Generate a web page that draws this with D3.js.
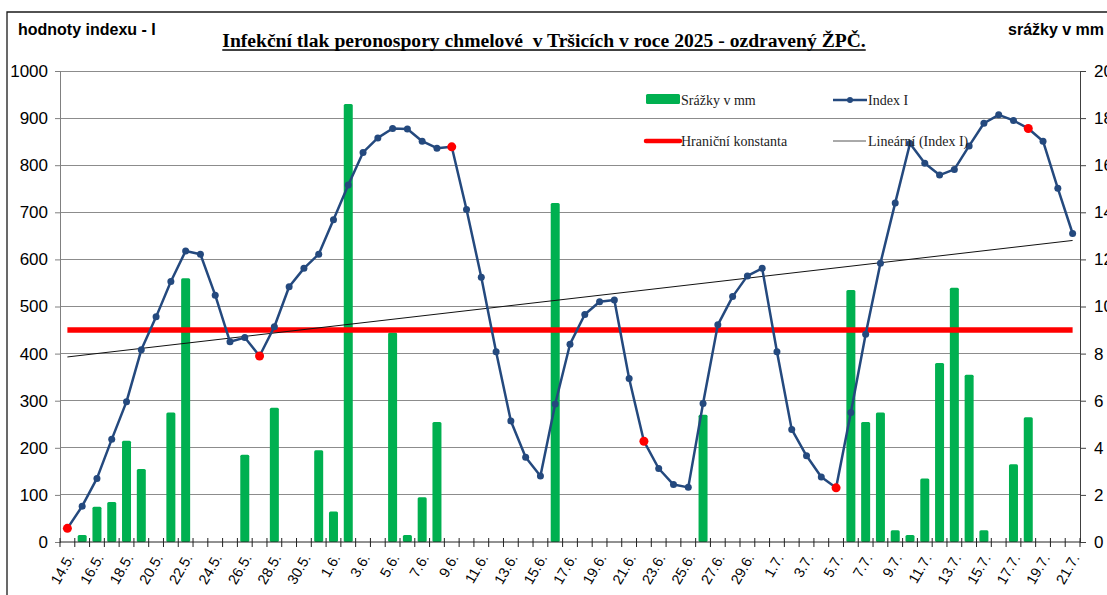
<!DOCTYPE html>
<html><head><meta charset="utf-8">
<script src="https://cdn.jsdelivr.net/npm/d3@7"></script>
<style>body{margin:0;background:#fff} svg{display:block}</style>
</head><body><svg id="c" width="1107" height="595"></svg>
<script>
const days = ["14.5.","15.5.","16.5.","17.5.","18.5.","19.5.","20.5.","21.5.","22.5.","23.5.","24.5.","25.5.","26.5.","27.5.","28.5.","29.5.","30.5.","31.5.",
"1.6.","2.6.","3.6.","4.6.","5.6.","6.6.","7.6.","8.6.","9.6.","10.6.","11.6.","12.6.","13.6.","14.6.","15.6.","16.6.","17.6.","18.6.","19.6.","20.6.","21.6.","22.6.","23.6.","24.6.","25.6.","26.6.","27.6.","28.6.","29.6.","30.6.",
"1.7.","2.7.","3.7.","4.7.","5.7.","6.7.","7.7.","8.7.","9.7.","10.7.","11.7.","12.7.","13.7.","14.7.","15.7.","16.7.","17.7.","18.7.","19.7.","20.7.","21.7."];
const indexI = [29,76,135,218,298,408,478,553,618,611,
524,425,434,395,457,542,581,611,684,758,
827,858,878,877,851,836,839,706,562,404,
257,180,140,293,420,483,510,514,347,214,
156,122,116,294,461,521,565,581,404,239,
183,138,115,275,441,592,720,846,804,779,
791,841,889,907,895,878,851,751,655];
const srazky = [0,0.3,1.5,1.7,4.3,3.1,0,5.5,11.2,0,
0,0,3.7,0,5.7,0,0,3.9,1.3,18.6,
0,0,8.9,0.3,1.9,5.1,0,0,0,0,
0,0,0,14.4,0,0,0,0,0,0,
0,0,0,5.4,0,0,0,0,0,0,
0,0,0,10.7,5.1,5.5,0.5,0.3,2.7,7.6,
10.8,7.1,0.5,0,3.3,5.3,0,0,0];
const highlighted = [0,13,26,39,52,65];
const hranicniKonstanta = 450;
const leftTicks = [0,100,200,300,400,500,600,700,800,900,1000];
const rightTicks = [0,2,4,6,8,10,12,14,16,18,20];
const titleText = "Infekční tlak peronospory chmelové  v Tršicích v roce 2025 - ozdravený ŽPČ.";
const leftTitle = "hodnoty indexu - I";
const rightTitle = "srážky v mm";
const legendItems = ["Srážky v mm","Index I","Hraniční konstanta","Lineární (Index I)"];

const SANS = "'Liberation Sans', Arial, sans-serif";
const SERIF = "'Liberation Serif', 'Times New Roman', serif";
const BLUE = "#24497E", GREEN = "#00B050", RED = "#FF0000";

const svg = d3.select("#c");
const L = 60, R = 1080, T = 71, B = 542;

const x = d3.scaleBand().domain(days).range([L, R]).padding(0);
const yL = d3.scaleLinear().domain([0, 1000]).range([B, T]);
const yR = d3.scaleLinear().domain([0, 20]).range([B, T]);
const cx = d => x(d) + x.bandwidth() / 2;

// frame
svg.append("path").attr("d", "M7,595 L7,12 L1107,12").attr("fill","none").attr("stroke","#1a1a1a").attr("stroke-width",1.3);

// gridlines
svg.append("g").selectAll("line").data(leftTicks.slice(1)).join("line")
  .attr("x1", L).attr("x2", R).attr("y1", d => yL(d)).attr("y2", d => yL(d))
  .attr("stroke", "#8c8c8c").attr("stroke-width", 1).attr("shape-rendering","crispEdges");

// bars
const bw = 9;
svg.append("g").selectAll("rect").data(days.map((d,i)=>({d, v: srazky[i]})).filter(o=>o.v>0)).join("rect")
  .attr("x", o => cx(o.d) - bw/2).attr("width", bw)
  .attr("y", o => yR(o.v)).attr("height", o => B - yR(o.v))
  .attr("rx", 1.5).attr("fill", GREEN);

// left axis
const gl = svg.append("g").attr("transform", `translate(${L},0)`)
  .call(d3.axisLeft(yL).tickValues(leftTicks).tickSize(5).tickPadding(7).tickFormat(d3.format("d")));
gl.select(".domain").attr("stroke", "#808080");
gl.selectAll(".tick line").attr("stroke", "#808080");
gl.selectAll("text").attr("font-family", SANS).attr("font-size", 17).attr("fill", "#000");

// right axis
const gr = svg.append("g").attr("transform", `translate(${R},0)`)
  .call(d3.axisRight(yR).tickValues(rightTicks).tickSize(6).tickPadding(8));
gr.select(".domain").attr("stroke", "#404040");
gr.selectAll(".tick line").attr("stroke", "#404040");
gr.selectAll("text").attr("font-family", SANS).attr("font-size", 17).attr("fill", "#000");

// bottom axis: ticks between categories
const gb = svg.append("g");
gb.append("line").attr("x1", L).attr("x2", R).attr("y1", B).attr("y2", B).attr("stroke", "#222").attr("stroke-width",1);
const bounds = days.map(d => x(d)).concat([R]);
gb.selectAll("line.tk").data(bounds).join("line").attr("class","tk")
  .attr("x1", d => d).attr("x2", d => d).attr("y1", B - 4).attr("y2", B + 5)
  .attr("stroke", "#222").attr("stroke-width", 1);
gb.selectAll("text").data(days.filter((d,i)=> i % 2 === 0)).join("text")
  .attr("transform", d => `translate(${cx(d)+3},${B+13}) rotate(-60)`)
  .attr("text-anchor", "end").attr("dy", "0.35em")
  .attr("font-family", SANS).attr("font-size", 14.5).attr("fill", "#000")
  .text(d => d);

// threshold line
svg.append("line").attr("x1", cx(days[0])).attr("x2", cx(days[days.length-1]))
  .attr("y1", yL(hranicniKonstanta)).attr("y2", yL(hranicniKonstanta))
  .attr("stroke", RED).attr("stroke-width", 5.5);

// linear trend of Index I
const n = indexI.length;
const xs = d3.range(n);
const mx = d3.mean(xs), my = d3.mean(indexI);
const slope = d3.sum(xs, i => (i - mx) * (indexI[i] - my)) / d3.sum(xs, i => (i - mx) ** 2);
const icpt = my - slope * mx;
svg.append("line")
  .attr("x1", cx(days[0])).attr("y1", yL(icpt))
  .attr("x2", cx(days[n-1])).attr("y2", yL(icpt + slope * (n-1)))
  .attr("stroke", "#111").attr("stroke-width", 1);

// index line
const pts = days.map((d,i)=>({d, v: indexI[i], i}));
svg.append("path").datum(pts)
  .attr("d", d3.line().x(p => cx(p.d)).y(p => yL(p.v)))
  .attr("fill", "none").attr("stroke", BLUE).attr("stroke-width", 2.5).attr("stroke-linejoin","round");
svg.append("g").selectAll("circle").data(pts).join("circle")
  .attr("cx", p => cx(p.d)).attr("cy", p => yL(p.v))
  .attr("r", p => highlighted.includes(p.i) ? 4.5 : 3.5)
  .attr("fill", p => highlighted.includes(p.i) ? RED : BLUE);

// titles
const tt = svg.append("text").attr("x", 544).attr("y", 47).attr("text-anchor","middle")
  .attr("font-family", SERIF).attr("font-weight","bold").attr("font-size", 19.6)
  .style("white-space","pre").attr("fill","#000").text(titleText);
const tw = tt.node().getComputedTextLength();
svg.append("line").attr("x1", 544 - tw/2).attr("x2", 544 + tw/2).attr("y1", 50).attr("y2", 50)
  .attr("stroke","#000").attr("stroke-width",1.3);
svg.append("text").attr("x", 18).attr("y", 35).attr("font-family", SANS).attr("font-weight","bold")
  .attr("font-size", 16).attr("fill","#000").text(leftTitle);
svg.append("text").attr("x", 1008).attr("y", 35).attr("font-family", SANS).attr("font-weight","bold")
  .attr("font-size", 16).attr("fill","#000").text(rightTitle);

// legend
const lg = svg.append("g").attr("font-family", SERIF).attr("font-size", 14).attr("fill", "#222");
lg.append("rect").attr("x", 646).attr("y", 94).attr("width", 34).attr("height", 10).attr("rx",1.5).attr("fill", GREEN);
lg.append("text").attr("x", 681).attr("y", 105).text(legendItems[0]);
lg.append("line").attr("x1", 833).attr("x2", 867).attr("y1", 100).attr("y2", 100).attr("stroke", BLUE).attr("stroke-width", 2.5);
lg.append("circle").attr("cx", 850).attr("cy", 100).attr("r", 3).attr("fill", BLUE);
lg.append("text").attr("x", 868).attr("y", 105).text(legendItems[1]);
lg.append("line").attr("x1", 646).attr("x2", 680).attr("y1", 141).attr("y2", 141).attr("stroke", RED).attr("stroke-width", 4.5).attr("stroke-linecap","round");
lg.append("text").attr("x", 681).attr("y", 146).text(legendItems[2]);
lg.append("line").attr("x1", 833).attr("x2", 866).attr("y1", 141).attr("y2", 141).attr("stroke", "#555").attr("stroke-width", 1);
lg.append("text").attr("x", 868).attr("y", 146).text(legendItems[3]);
</script></body></html>
